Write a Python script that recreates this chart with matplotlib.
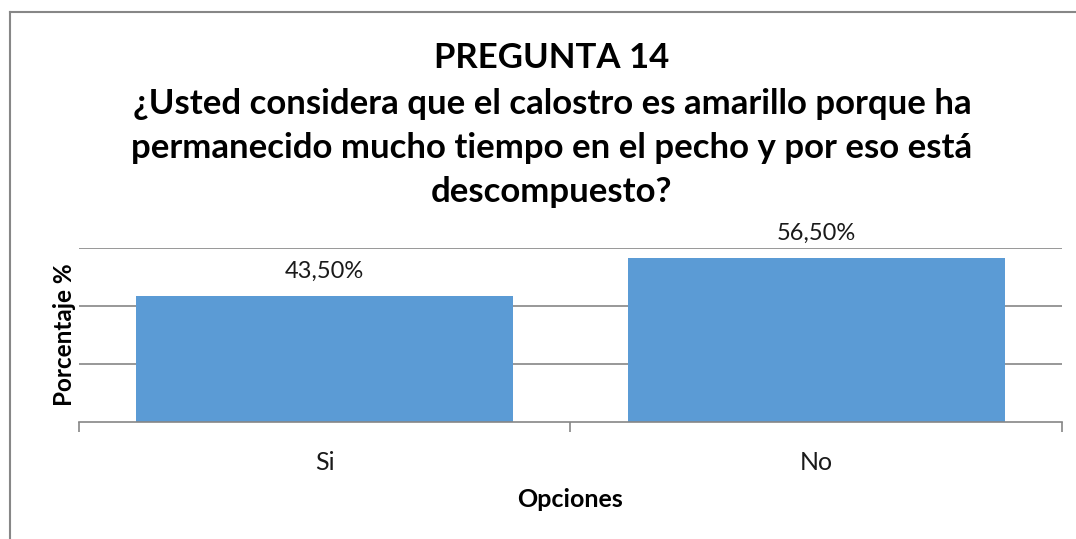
import matplotlib
matplotlib.use("Agg")
import matplotlib.pyplot as plt
from matplotlib.lines import Line2D

# data
categories = ["Si", "No"]
values = [43.5, 56.5]
value_labels = ["43,50%", "56,50%"]
title_lines = [
    "PREGUNTA 14",
    "¿Usted considera que el calostro es amarillo porque ha",
    "permanecido mucho tiempo en el pecho y por eso está",
    "descompuesto?",
]

BAR_COLOR = "#5B9BD5"
GRID_COLOR = "#868686"
FONT = ["Lato", "DejaVu Sans"]

plt.rcParams["font.family"] = FONT

fig = plt.figure(figsize=(10.76, 5.39), dpi=100)
ax = fig.add_axes([0.0734, 0.2171, 0.9136, 0.3228])

x = list(range(len(categories)))
bars = ax.bar(x, values, width=0.767, color=BAR_COLOR, zorder=2)
ax.bar_label(bars, labels=value_labels, padding=10, fontsize=17, color="#1a1a1a")

ax.set_xlim(-0.5, len(categories) - 0.5)
ax.set_ylim(0, 60)
ax.set_yticks([20, 40, 60])
ax.set_yticklabels([])
ax.tick_params(axis="y", length=0)
ax.grid(axis="y", color=GRID_COLOR, linewidth=1.2, zorder=0)

ax.set_xticks(x)
ax.set_xticklabels(categories, fontsize=18, color="#1a1a1a")
ax.set_xticks([i - 0.5 for i in range(len(categories) + 1)], minor=True)
ax.tick_params(axis="x", which="major", length=0, pad=21)
ax.tick_params(axis="x", which="minor", length=7, width=1.2, color=GRID_COLOR)

for side in ("top", "right", "left"):
    ax.spines[side].set_visible(False)
ax.spines["bottom"].set_color(GRID_COLOR)
ax.spines["bottom"].set_linewidth(1.2)

ax.set_xlabel("Opciones", fontsize=18, fontweight="bold", labelpad=10)
ax.set_ylabel("Porcentaje %", fontsize=17.5, fontweight="bold", labelpad=-1)

# title lines, baselines in pixels from the top
baselines = [68, 114, 158, 202]
for line, base in zip(title_lines, baselines):
    fig.text(552 / 1076, 1 - base / 539, line, ha="center", va="baseline",
             fontsize=25, fontweight="bold", color="black")

# chart area border (cut off at the right and bottom)
fig.add_artist(Line2D([9.5 / 1076, 1], [1 - 12 / 539] * 2, color="#878787", linewidth=1.5))
fig.add_artist(Line2D([9.5 / 1076] * 2, [0, 1 - 12 / 539], color="#878787", linewidth=1.5))

fig.savefig("out.png", dpi=100)
